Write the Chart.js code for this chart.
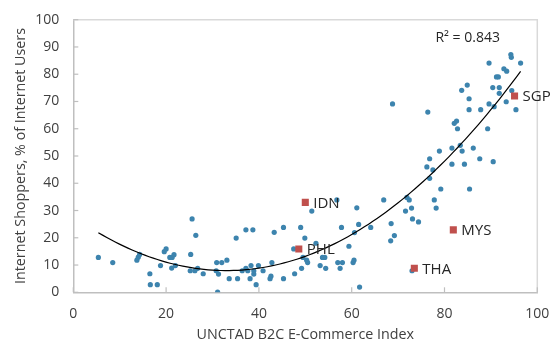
<!DOCTYPE html>
<html><head><meta charset="utf-8">
<script src="https://cdn.jsdelivr.net/npm/chart.js@4.4.0/dist/chart.umd.min.js"></script>
<style>html,body{margin:0;padding:0;background:#fff}#wrap{width:551px;height:347px}</style>
</head><body><div id="wrap"><canvas id="c" width="551" height="347"></canvas></div>
<script>
const X_TITLE = "UNCTAD B2C E-Commerce Index";
const Y_TITLE = "Internet Shoppers, % of Internet Users";
const R2_TEXT = "R\u00B2 = 0.843";
const xTicks = [0, 20, 40, 60, 80, 100];
const yTicks = [0, 10, 20, 30, 40, 50, 60, 70, 80, 90, 100];

const otherX = [5.4,8.5,13.7,14.0,14.3,16.5,16.6,18.1,18.8,19.6,20.0,20.8,21.2,21.3,21.7,22.0,25.3,25.6,26.4,25.2,26.2,26.8,28.0,30.9,32.0,33.1,30.8,31.3,31.1,33.6,35.1,35.4,36.4,37.2,37.2,37.6,38.1,38.3,38.7,38.9,38.9,39.4,39.9,40.9,42.4,42.6,42.8,43.3,45.3,45.3,47.7,47.5,49.0,49.2,49.9,49.5,50.3,50.5,51.4,52.3,53.2,53.7,54.2,54.4,56.8,57.0,57.5,57.8,58.0,59.4,60.3,60.5,60.6,61.1,61.5,61.7,64.1,66.9,68.5,68.4,69.2,71.6,72.9,71.9,72.4,73.1,74.4,73.0,77.8,78.2,79.2,85.4,76.8,76.2,77.5,76.8,78.9,81.6,84.3,83.8,87.6,90.5,82.1,82.6,82.8,89.3,81.6,83.4,86.2,68.8,76.4,83.7,84.9,85.3,85.3,87.8,89.6,89.6,90.4,90.7,91.2,91.6,91.8,91.8,92.8,93.4,94.3,94.4,94.5,93.3,95.4,96.4];
const otherY = [12.8,10.9,11.8,12.9,13.9,6.8,2.8,2.8,9.8,14.9,15.9,12.8,8.9,12.8,13.8,9.8,13.9,26.9,20.9,7.9,7.9,8.8,6.8,10.9,10.9,11.8,7.9,6.7,0.1,5.0,19.9,5.0,7.9,22.9,8.8,7.9,5.0,9.8,22.9,7.9,6.7,2.8,9.8,7.9,5.0,5.9,10.9,22.0,23.8,5.0,6.8,15.9,23.8,8.8,19.9,12.8,11.8,10.9,29.8,18.0,9.8,12.8,12.8,8.8,33.9,10.9,8.8,23.8,10.9,16.9,10.9,11.8,21.9,31.0,24.9,1.9,23.8,33.9,25.2,18.9,20.8,29.8,30.9,34.8,33.9,26.9,25.8,7.9,33.9,30.9,37.9,37.9,41.8,46.0,44.9,49.0,51.8,47.0,47.0,51.8,49.0,47.9,62.0,62.8,60.0,60.0,52.9,53.9,52.9,69.1,66.1,74.1,76.0,71.0,67.0,67.0,84.1,69.1,75.1,68.1,79.0,79.0,75.1,73.0,82.0,81.1,87.2,86.2,74.0,69.9,67.0,84.1];

const hlLabels = ["IDN", "PHL", "SGP", "MYS", "THA"];
const hlX = [50.0, 48.6, 95.1, 81.9, 73.5];
const hlY = [33.0, 15.9, 72.0, 22.9, 8.8];

// quadratic least-squares trendline over all observations
const allX = otherX.concat(hlX), allY = otherY.concat(hlY);
function fitQuad(xs, ys){
  let S=[0,0,0,0,0], T=[0,0,0];
  for(let i=0;i<xs.length;i++){const x=xs[i],y=ys[i];let p=1;for(let k=0;k<5;k++){S[k]+=p; if(k<3)T[k]+=p*y; p*=x;}}
  const A=[[S[0],S[1],S[2],T[0]],[S[1],S[2],S[3],T[1]],[S[2],S[3],S[4],T[2]]];
  for(let i=0;i<3;i++){for(let j=i+1;j<3;j++){const f=A[j][i]/A[i][i];for(let k=i;k<4;k++)A[j][k]-=f*A[i][k];}}
  const c=[0,0,0];
  for(let i=2;i>=0;i--){let s=A[i][3];for(let k=i+1;k<3;k++)s-=A[i][k]*c[k];c[i]=s/A[i][i];}
  return c;
}
const coef = fitQuad(allX, allY);
const xMin = Math.min(...allX), xMax = Math.max(...allX);
const trend = [];
for(let i=0;i<=100;i++){const x=xMin+(xMax-xMin)*i/100; trend.push({x:x, y:coef[0]+coef[1]*x+coef[2]*x*x});}

const FONT = "'Open Sans', 'Noto Sans', sans-serif";
const TXT = '#404040';
const AXIS = '#bfbfbf';

const extras = {
  id:'extras',
  afterDraw(chart){
    const {ctx, chartArea:a, scales:{x, y}} = chart;
    ctx.save();
    ctx.strokeStyle = '#d9d9d9'; ctx.lineWidth = 1.5;
    ctx.beginPath(); ctx.moveTo(a.left, a.top); ctx.lineTo(a.right, a.top); ctx.lineTo(a.right, a.bottom); ctx.stroke();
    ctx.strokeStyle = AXIS; ctx.lineWidth = 1.2;
    yTicks.forEach(v=>{const py=y.getPixelForValue(v); ctx.beginPath(); ctx.moveTo(a.left, py); ctx.lineTo(a.left+5, py); ctx.stroke();});
    xTicks.forEach(v=>{const px=x.getPixelForValue(v); ctx.beginPath(); ctx.moveTo(px, a.bottom); ctx.lineTo(px, a.bottom-5); ctx.stroke();});
    ctx.fillStyle = '#262626'; ctx.font = "15px " + FONT; ctx.textBaseline = 'middle'; ctx.textAlign = 'left';
    hlLabels.forEach((t,i)=>{ctx.fillText(t, x.getPixelForValue(hlX[i]) + 8, y.getPixelForValue(hlY[i]) + 1);});
    ctx.font = "14px " + FONT; ctx.textAlign = 'center';
    ctx.fillText(R2_TEXT, x.getPixelForValue(85), y.getPixelForValue(93.3));
    ctx.restore();
  }
};

new Chart(document.getElementById('c'), {
  type: 'scatter',
  data: { datasets: [
    { label:'hl', data: hlX.map((v,i)=>({x:v,y:hlY[i]})), backgroundColor:'#c0504d', borderColor:'#c0504d', pointStyle:'rect', pointRadius:5, borderWidth:0, order:0 },
    { label:'trend', type:'line', data: trend, borderColor:'#000', borderWidth:1.2, pointRadius:0, fill:false, tension:0, order:1 },
    { label:'obs', data: otherX.map((v,i)=>({x:v,y:otherY[i]})), backgroundColor:'#3d84ae', borderColor:'#3d84ae', pointRadius:2.6, borderWidth:0, order:2 }
  ]},
  options: {
    responsive:false, animation:false, devicePixelRatio:1,
    layout:{ padding:{ left:0, right:13.7, top:19.7, bottom:0 } },
    plugins:{ legend:{display:false}, tooltip:{enabled:false} },
    scales:{
      x:{ type:'linear', min:0, max:100,
        afterBuildTicks(s){ s.ticks = xTicks.map(v=>({value:v})); },
        afterFit(s){ s.height = 54.7; s.paddingLeft = 0; s.paddingRight = 0; },
        grid:{display:false, drawTicks:false}, border:{display:true, color:AXIS, width:1.5},
        ticks:{ font:{family:FONT, size:14}, color:TXT, padding:13, maxRotation:0 },
        title:{ display:true, text:X_TITLE, font:{family:FONT, size:14.3}, color:TXT, padding:{top:0,bottom:3} } },
      y:{ type:'linear', min:0, max:100,
        afterBuildTicks(s){ s.ticks = yTicks.map(v=>({value:v})); },
        afterFit(s){ s.width = 73.3; s.paddingTop = 0; s.paddingBottom = 0; },
        grid:{display:false, drawTicks:false}, border:{display:true, color:AXIS, width:1.5},
        ticks:{ font:{family:FONT, size:14}, color:TXT, padding:14 },
        title:{ display:true, text:Y_TITLE, font:{family:FONT, size:14.3}, color:TXT, padding:{top:12,bottom:0} } }
    }
  },
  plugins:[extras]
});
</script></body></html>
